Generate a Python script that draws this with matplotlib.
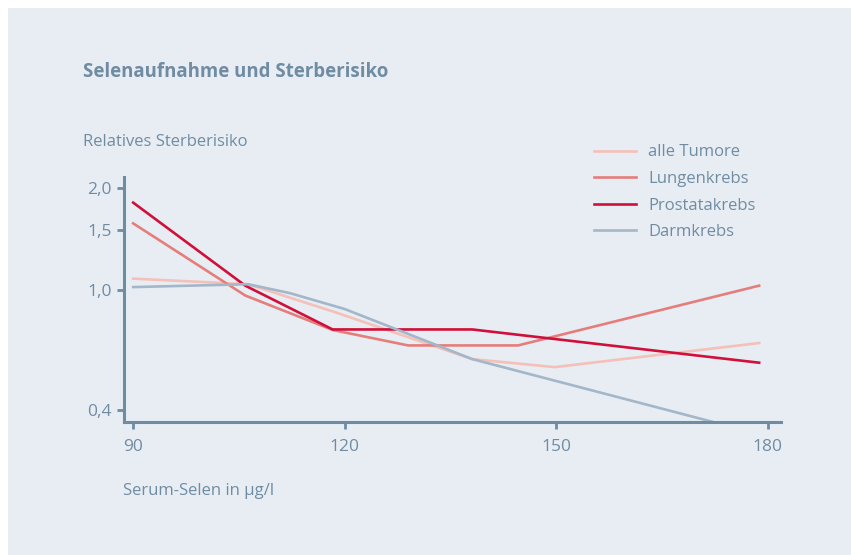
import matplotlib
matplotlib.use("Agg")
import numpy as np
import matplotlib.pyplot as plt
from matplotlib.patches import Rectangle

# Relatives Sterberisiko vs. Serum-Selen
series_names = ["alle Tumore", "Lungenkrebs", "Prostatakrebs", "Darmkrebs"]

x_alle = [90, 106.3, 118.6, 138.1, 149.8, 178.8]
y_alle = [1.08, 1.04, 0.845, 0.59, 0.555, 0.667]

x_lunge = [90, 105.9, 118.3, 129.0, 144.6, 178.8]
y_lunge = [1.57, 0.959, 0.737, 0.655, 0.655, 1.03]

x_prostata = [90, 105.9, 118.3, 138.1, 178.8]
y_prostata = [1.81, 1.03, 0.74, 0.74, 0.574]

x_darm = [90, 106.3, 112.2, 120.0, 138.1, 178.8]
y_darm = [1.02, 1.04, 0.977, 0.865, 0.59, 0.333]

x_ticks = [90, 120, 150, 180]
y_ticks = [0.4, 1.0, 1.5, 2.0]
y_ticklabels = ["0,4", "1,0", "1,5", "2,0"]

colors = ["#f4c0b8", "#e57e7a", "#d0103a", "#a3b7c9"]
axis_col = "#6f8ca3"
bg = "#e8edf4"

# the original y axis is roughly logarithmic, but not evenly spaced
anchor_vals = np.log([0.1, 0.4, 1.0, 1.5, 2.0, 5.0])
anchor_pos = np.array([-181.6, 0, 120, 180, 222, 355.8])


def y_fwd(v):
    v = np.clip(np.asarray(v, dtype=float), 1e-6, None)
    return np.interp(np.log(v), anchor_vals, anchor_pos)


def y_inv(p):
    return np.exp(np.interp(p, anchor_pos, anchor_vals))


plt.rcParams['font.family'] = ['Open Sans', 'DejaVu Sans']

fig = plt.figure(figsize=(8.51, 5.55), dpi=100, facecolor="white")
fig.add_artist(Rectangle((8 / 851, 0), 1, 1 - 8 / 555, transform=fig.transFigure,
                         facecolor=bg, edgecolor="none", zorder=0))

ax = fig.add_axes([124 / 851, (555 - 422) / 555, (781 - 124) / 851, (422 - 177) / 555])
ax.set_facecolor("none")

xs = [x_alle, x_lunge, x_prostata, x_darm]
ys = [y_alle, y_lunge, y_prostata, y_darm]
for x, y, c, name in zip(xs, ys, colors, series_names):
    ax.plot(x, y, color=c, lw=1.9, label=name, solid_joinstyle="miter")

ax.set_yscale("function", functions=(y_fwd, y_inv))
ax.set_xlim(88.7, 181.9)
ax.set_ylim(0.365, 2.157)
ax.set_xticks(x_ticks)
ax.set_xticklabels([str(t) for t in x_ticks])
ax.set_yticks(y_ticks)
ax.set_yticklabels(y_ticklabels)
ax.minorticks_off()

for s in ["top", "right"]:
    ax.spines[s].set_visible(False)
for s in ["left", "bottom"]:
    ax.spines[s].set_color(axis_col)
    ax.spines[s].set_linewidth(2.2)
ax.tick_params(colors=axis_col, labelcolor=axis_col, width=2, length=5, labelsize=12.5)
ax.tick_params(axis="x", pad=7)
ax.tick_params(axis="y", pad=4)

fig.text(83 / 851, 1 - 72 / 555, "Selenaufnahme und Sterberisiko", fontsize=13.4,
         fontweight="bold", color=axis_col, va="center", ha="left")
fig.text(83 / 851, 1 - 142 / 555, "Relatives Sterberisiko", fontsize=12,
         color=axis_col, va="center", ha="left")
fig.text(123 / 851, 1 - 491 / 555, "Serum-Selen in µg/l", fontsize=12,
         color=axis_col, va="center", ha="left")

leg = ax.legend(loc="upper left", bbox_to_anchor=(594 / 851, 1 - 144.5 / 555),
                bbox_transform=fig.transFigure, frameon=False, fontsize=12,
                handlelength=2.5, handletextpad=0.75, labelspacing=0.63,
                borderpad=0, borderaxespad=0)
for t in leg.get_texts():
    t.set_color(axis_col)

fig.savefig("out.png", dpi=100, facecolor="white")
